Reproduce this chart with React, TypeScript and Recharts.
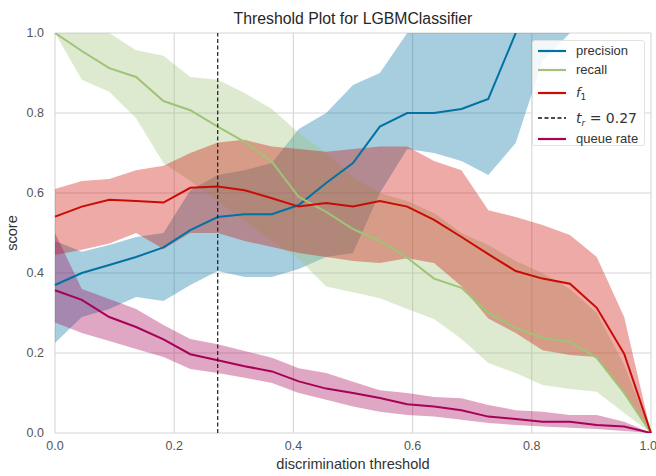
import React from "react";
import {
  ComposedChart,
  Area,
  Line,
  XAxis,
  YAxis,
  CartesianGrid,
  ReferenceLine,
  Legend,
} from "recharts";

const thresholds = [0, 0.045, 0.091, 0.136, 0.182, 0.227, 0.273, 0.318, 0.364, 0.409, 0.455, 0.5, 0.545, 0.591, 0.636, 0.682, 0.727, 0.773, 0.818, 0.864, 0.909, 0.955, 1.0];

const precision = [0.37, 0.4, 0.42, 0.44, 0.464, 0.507, 0.54, 0.547, 0.547, 0.57, 0.625, 0.675, 0.766, 0.8, 0.8, 0.81, 0.835, 1.0, null, null, null, null, null];
const precisionLower = [0.225, 0.29, 0.31, 0.34, 0.33, 0.37, 0.405, 0.39, 0.39, 0.41, 0.44, 0.45, 0.6, 0.71, 0.7, 0.68, 0.645, 0.725, 0.93, 1.0, null, null, null];
const precisionUpper = [0.48, 0.453, 0.47, 0.49, 0.5, 0.607, 0.645, 0.657, 0.675, 0.76, 0.8, 0.87, 0.9, 1.0, 1.0, 1.0, 1.0, 1.0, 1.0, 1.0, null, null, null];

const recall = [1.0, 0.955, 0.912, 0.89, 0.83, 0.807, 0.766, 0.728, 0.678, 0.59, 0.553, 0.51, 0.48, 0.438, 0.386, 0.363, 0.3, 0.263, 0.238, 0.228, 0.188, 0.1, 0.0];
const recallLower = [1.0, 0.883, 0.853, 0.787, 0.675, 0.63, 0.58, 0.53, 0.48, 0.435, 0.366, 0.352, 0.337, 0.31, 0.285, 0.235, 0.175, 0.15, 0.12, 0.11, 0.103, 0.05, 0.0];
const recallUpper = [1.0, 1.0, 1.0, 0.957, 0.943, 0.89, 0.883, 0.85, 0.81, 0.75, 0.7, 0.64, 0.6, 0.58, 0.55, 0.5, 0.47, 0.43, 0.4, 0.36, 0.3, 0.17, 0.0];

const f1 = [0.541, 0.566, 0.583, 0.58, 0.576, 0.613, 0.616, 0.607, 0.587, 0.566, 0.575, 0.566, 0.58, 0.566, 0.533, 0.49, 0.447, 0.405, 0.386, 0.373, 0.313, 0.198, 0.0];
const f1Lower = [0.445, 0.458, 0.474, 0.5, 0.46, 0.5, 0.5, 0.48, 0.465, 0.45, 0.44, 0.43, 0.425, 0.437, 0.425, 0.367, 0.286, 0.25, 0.207, 0.195, 0.19, 0.1, 0.0];
const f1Upper = [0.61, 0.63, 0.635, 0.657, 0.668, 0.7, 0.726, 0.733, 0.716, 0.71, 0.703, 0.71, 0.716, 0.716, 0.68, 0.657, 0.557, 0.54, 0.52, 0.495, 0.44, 0.29, 0.0];

const queueRate = [0.357, 0.333, 0.29, 0.265, 0.234, 0.197, 0.182, 0.167, 0.154, 0.129, 0.111, 0.1, 0.0875, 0.072, 0.066, 0.057, 0.041, 0.035, 0.028, 0.028, 0.02, 0.016, 0.0];
const queueLower = [0.276, 0.25, 0.23, 0.21, 0.19, 0.16, 0.15, 0.138, 0.125, 0.1, 0.083, 0.066, 0.053, 0.045, 0.041, 0.033, 0.025, 0.02, 0.016, 0.013, 0.01, 0.005, 0.0];
const queueUpper = [0.5, 0.36, 0.335, 0.31, 0.27, 0.235, 0.222, 0.205, 0.188, 0.162, 0.15, 0.128, 0.107, 0.1, 0.09, 0.087, 0.07, 0.057, 0.053, 0.045, 0.045, 0.028, 0.0];

const thresholdValue = 0.273;
const thresholdLabel = "0.27";
const xTicks = [0, 0.2, 0.4, 0.6, 0.8, 1.0];
const yTicks = [0, 0.2, 0.4, 0.6, 0.8, 1.0];

const COLORS = {
  precision: "#0272a2",
  recall: "#9fc377",
  f1: "#ca0b03",
  queue: "#a50258",
};

const band = (lo: (number | null)[], hi: (number | null)[], i: number) =>
  lo[i] == null || hi[i] == null ? null : [lo[i], hi[i]];

const data = thresholds.map((t, i) => ({
  t,
  precision: precision[i],
  precisionBand: band(precisionLower, precisionUpper, i),
  recall: recall[i],
  recallBand: band(recallLower, recallUpper, i),
  f1: f1[i],
  f1Band: band(f1Lower, f1Upper, i),
  queue: queueRate[i],
  queueBand: band(queueLower, queueUpper, i),
}));

const FONT = '"Liberation Sans", Arial, sans-serif';
const MATH = '"DejaVu Sans", sans-serif';

const legendRows = [
  { key: "precision", y: 10, color: COLORS.precision, dashed: false, label: <span>precision</span> },
  { key: "recall", y: 29, color: COLORS.recall, dashed: false, label: <span>recall</span> },
  {
    key: "f1",
    y: 52,
    color: COLORS.f1,
    dashed: false,
    label: (
      <span style={{ fontFamily: MATH }}>
        <i>f</i>
        <span style={{ fontSize: 9, position: "relative", top: 3 }}>1</span>
      </span>
    ),
  },
  {
    key: "tr",
    y: 77,
    color: "#111",
    dashed: true,
    label: (
      <span style={{ fontFamily: MATH, fontSize: 14 }}>
        <i>t</i>
        <i style={{ fontSize: 9, position: "relative", top: 3 }}>r</i>
        <span> = {thresholdLabel}</span>
      </span>
    ),
  },
  { key: "queue", y: 98, color: COLORS.queue, dashed: false, label: <span>queue rate</span> },
];

const renderLegend = () => (
  <div
    style={{
      position: "relative",
      width: 113,
      height: 106,
      background: "rgba(255,255,255,0.85)",
      border: "1px solid #e2e2e2",
      borderRadius: 3,
      boxSizing: "border-box",
      fontFamily: FONT,
      fontSize: 13,
      color: "#333",
    }}
  >
    {legendRows.map((r) => (
      <div key={r.key} style={{ position: "absolute", left: 0, top: r.y - 9, height: 18, width: 113 }}>
        <svg width={40} height={18} style={{ position: "absolute", left: 0, top: 0 }}>
          <line
            x1={5}
            x2={33}
            y1={9}
            y2={9}
            stroke={r.color}
            strokeWidth={r.dashed ? 1.3 : 2.2}
            strokeDasharray={r.dashed ? "4 2.5" : undefined}
          />
        </svg>
        <div style={{ position: "absolute", left: 43, top: 0, lineHeight: "18px", whiteSpace: "nowrap" }}>{r.label}</div>
      </div>
    ))}
  </div>
);

export default function App() {
  return (
    <div
      style={{
        position: "absolute",
        left: 0,
        top: 0,
        width: 656,
        height: 476,
        background: "#fff",
        fontFamily: FONT,
      }}
    >
      <div
        style={{
          position: "absolute",
          left: 0,
          width: 706,
          top: 11,
          textAlign: "center",
          fontSize: 15.8,
          lineHeight: "16px",
          color: "#262626",
        }}
      >
        Threshold Plot for LGBMClassifier
      </div>
      <ComposedChart
        width={656}
        height={476}
        data={data}
        margin={{ top: 33, right: 5, bottom: 0, left: 0 }}
        style={{ position: "absolute", left: 0, top: 0 }}
      >
        <CartesianGrid stroke="#d6d6d6" strokeWidth={1.1} horizontalValues={yTicks} verticalValues={xTicks} />
        <XAxis
          dataKey="t"
          type="number"
          domain={[0, 1]}
          ticks={xTicks}
          tickFormatter={(v: number) => v.toFixed(1)}
          height={43}
          axisLine={false}
          tickLine={false}
          tickSize={0}
          tickMargin={8}
          tick={{ fill: "#555", fontSize: 12.5, fontFamily: FONT }}
          label={{
            content: () => (
              <text x={353} y={469} textAnchor="middle" fill="#333" fontSize={14.6} fontFamily={FONT}>
                discrimination threshold
              </text>
            ),
          }}
        />
        <YAxis
          type="number"
          domain={[0, 1]}
          allowDataOverflow
          ticks={yTicks}
          tickFormatter={(v: number) => v.toFixed(1)}
          width={55}
          axisLine={false}
          tickLine={false}
          tickSize={0}
          tickMargin={11}
          tick={{ fill: "#555", fontSize: 12.5, fontFamily: FONT }}
          label={{
            content: () => (
              <text
                x={17}
                y={233}
                transform="rotate(-90 17 233)"
                textAnchor="middle"
                fill="#333"
                fontSize={14.6}
                fontFamily={FONT}
              >
                score
              </text>
            ),
          }}
        />
        <Area type="linear" dataKey="precisionBand" stroke="none" fill={COLORS.precision} fillOpacity={0.35} isAnimationActive={false} activeDot={false} dot={false} />
        <Area type="linear" dataKey="recallBand" stroke="none" fill={COLORS.recall} fillOpacity={0.35} isAnimationActive={false} activeDot={false} dot={false} />
        <Area type="linear" dataKey="f1Band" stroke="none" fill={COLORS.f1} fillOpacity={0.35} isAnimationActive={false} activeDot={false} dot={false} />
        <Area type="linear" dataKey="queueBand" stroke="none" fill={COLORS.queue} fillOpacity={0.35} isAnimationActive={false} activeDot={false} dot={false} />
        <Line type="linear" dataKey="precision" stroke={COLORS.precision} strokeWidth={2} dot={false} activeDot={false} isAnimationActive={false} />
        <Line type="linear" dataKey="recall" stroke={COLORS.recall} strokeWidth={2} dot={false} activeDot={false} isAnimationActive={false} />
        <Line type="linear" dataKey="f1" stroke={COLORS.f1} strokeWidth={2} dot={false} activeDot={false} isAnimationActive={false} />
        <Line type="linear" dataKey="queue" stroke={COLORS.queue} strokeWidth={2} dot={false} activeDot={false} isAnimationActive={false} />
        <ReferenceLine x={thresholdValue} stroke="#1a1a1a" strokeWidth={1.2} strokeDasharray="4 2.5" />
        <Legend
          layout="horizontal"
          verticalAlign="middle"
          align="center"
          wrapperStyle={{ top: 40, left: 532, width: 113, height: 106 }}
          content={renderLegend}
        />
      </ComposedChart>
    </div>
  );
}
